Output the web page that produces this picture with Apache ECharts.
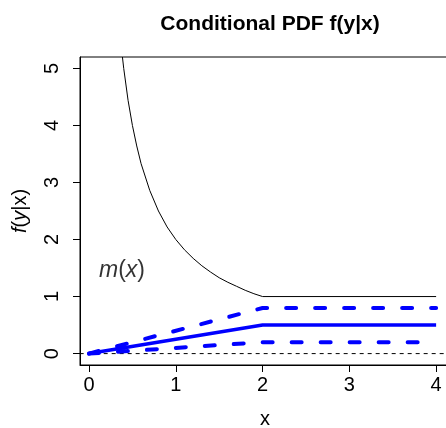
<!DOCTYPE html>
<html>
<head>
<meta charset="utf-8">
<script src="https://cdn.jsdelivr.net/npm/echarts@6/dist/echarts.min.js"></script>
<style>html,body{margin:0;padding:0;background:#fff}#c{width:446px;height:428px}</style>
</head>
<body>
<div id="c"></div>
<script>
var xTicks = [0, 1, 2, 3, 4];
var yTicks = [0, 1, 2, 3, 4, 5];
var mCurve = [[0.385,5.2],[0.4,5],[0.45,4.44],[0.5,4],[0.55,3.64],[0.6,3.33],[0.7,2.86],[0.8,2.5],[0.9,2.22],[1,2],[1.1,1.82],[1.2,1.67],[1.3,1.54],[1.4,1.43],[1.5,1.33],[1.6,1.25],[1.7,1.18],[1.8,1.11],[1.9,1.05],[2,1],[4,1]];
var meanLine = [[0,0],[2,0.5],[4,0.5]];
var upperLine = [[0,0],[2,0.8],[4,0.8]];
var lowerLine = [[0,0],[2,0.2],[4,0.2]];
var zeroLine = [[-0.2,0],[4.3,0]];
var arrowPoint = [[0.36,0.1]];
var labelPoint = [[0.38,1.45]];

var chart = echarts.init(document.getElementById('c'));
var font = 'Liberation Sans, Arial, Helvetica, sans-serif';
chart.setOption({
  animation: false,
  title: {
    text: 'Conditional PDF f(y|x)', left: 265, top: 9, textAlign: 'center',
    textStyle: {fontFamily: font, fontWeight: 'bold', fontSize: 21, color: '#000'}
  },
  grid: {left: 80, top: 57, width: 370, height: 308, containLabel: false, outerBoundsMode: 'none',
    show: true, borderColor: '#000', borderWidth: 1, backgroundColor: 'transparent'},
  xAxis: {
    type: 'value', min: -0.104, max: 4.16,
    name: 'x', nameLocation: 'middle', nameGap: 44,
    nameTextStyle: {fontFamily: font, fontSize: 20, color: '#000'},
    splitLine: {show: false},
    axisLine: {show: true, onZero: false, lineStyle: {color: '#000', width: 1}},
    axisTick: {show: true, inside: false, length: 7, customValues: xTicks, lineStyle: {color: '#000'}},
    axisLabel: {customValues: xTicks, fontFamily: font, fontSize: 20, color: '#000', margin: 10}
  },
  yAxis: {
    type: 'value', min: -0.2, max: 5.2,
    name: '{i|f}{n|(}{i|y}{n||x)}', nameLocation: 'middle', nameGap: 50, nameRotate: 90,
    nameTextStyle: {rich: {
      i: {fontFamily: font, fontSize: 20, fontStyle: 'italic', color: '#000'},
      n: {fontFamily: font, fontSize: 20, color: '#000'}
    }},
    splitLine: {show: false},
    axisLine: {show: true, onZero: false, lineStyle: {color: '#000', width: 1}},
    axisTick: {show: true, inside: false, length: 7, customValues: yTicks, lineStyle: {color: '#000'}},
    axisLabel: {customValues: yTicks, rotate: 90, fontFamily: font, fontSize: 20, color: '#000', margin: 18}
  },
  series: [
    {type: 'line', data: zeroLine, symbol: 'none', lineStyle: {color: '#000', width: 1, type: [4, 4]}},
    {type: 'line', data: mCurve, symbol: 'none', smooth: false, lineStyle: {color: '#000', width: 1}},
    {type: 'line', data: upperLine, symbol: 'none', lineStyle: {color: '#0000ff', width: 4, type: [10, 19], cap: 'round'}},
    {type: 'line', data: lowerLine, symbol: 'none', lineStyle: {color: '#0000ff', width: 4, type: [10, 19], cap: 'round'}},
    {type: 'line', data: meanLine, symbol: 'none', lineStyle: {color: '#0000ff', width: 3.5}},
    {type: 'scatter', data: arrowPoint, symbol: 'triangle', symbolSize: [9, 11], symbolRotate: 80, itemStyle: {color: '#0000ff'}},
    {type: 'scatter', data: labelPoint, symbolSize: 0, label: {show: true, position: 'inside',
      formatter: '{i|m}{n|(}{i|x}{n|)}',
      rich: {
        i: {fontFamily: font, fontSize: 23, fontStyle: 'italic', color: '#000'},
        n: {fontFamily: font, fontSize: 23, color: '#000'}
      }}}
  ]
});
</script>
</body>
</html>
